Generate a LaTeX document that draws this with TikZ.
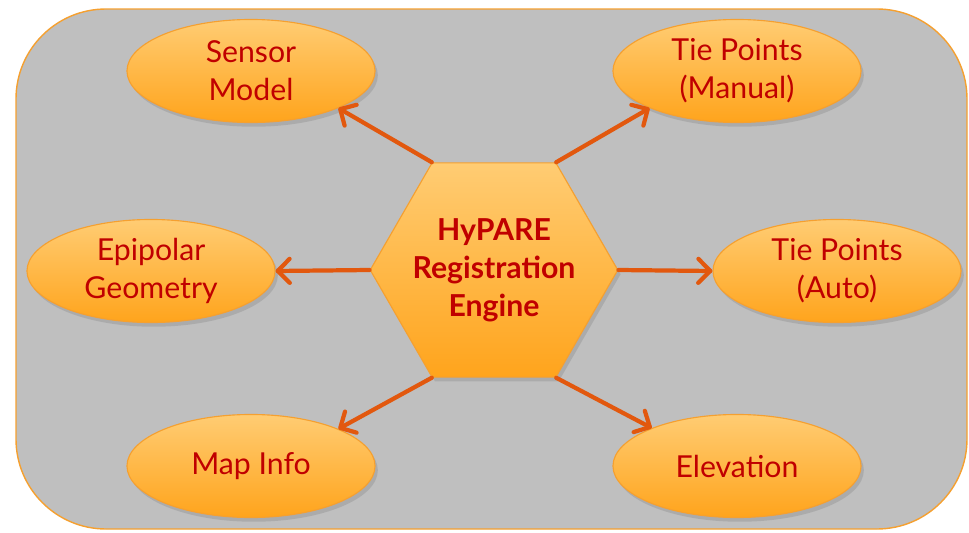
\documentclass[tikz,border=0pt]{standalone}
\usepackage{fontspec}
\setmainfont{Lato}
\usetikzlibrary{shapes.geometric,arrows.meta,shadows}
\definecolor{panelgrey}{HTML}{BFBFBF}
\definecolor{rimorange}{HTML}{F5A030}
\definecolor{lightamber}{HTML}{FFCC73}
\definecolor{deepamber}{HTML}{FFA41C}
\definecolor{labelred}{HTML}{C00000}
\definecolor{arroworange}{HTML}{E2580E}
\begin{document}
\begin{tikzpicture}[x=0.025cm,y=-0.025cm,
    blob/.style={ellipse,draw=rimorange,line width=0.8pt,top color=lightamber,bottom color=deepamber,
        minimum width=6.2cm,minimum height=2.575cm,inner sep=0pt,align=center,text=labelred,
        font=\fontsize{21.5}{27}\selectfont,
        drop shadow={shadow xshift=2pt,shadow yshift=-3pt,opacity=0.3}},
    hub/.style={regular polygon,regular polygon sides=6,draw=rimorange,line width=0.8pt,
        top color=lightamber,bottom color=deepamber,minimum size=5cm,inner sep=-4pt,
        align=center,text=labelred,font=\fontsize{21.5}{27}\selectfont\bfseries,
        drop shadow={shadow xshift=2pt,shadow yshift=-3pt,opacity=0.3}},
    link/.style={draw=arroworange,line width=3pt,line cap=round,
        -{Straight Barb[length=3mm,width=6mm,round]}}]
    \useasboundingbox (0,0) rectangle (969,533);
    \draw[draw=rimorange,line width=1pt,fill=panelgrey,rounded corners=2.25cm] (16,9) rectangle (967,529);
    \node[hub] (engine) at (494,270) {HyPARE\\Registration\\Engine};
    \node[blob] (sensor) at (251,71) {Sensor\\Model};
    \node[blob] (manual) at (737,71) {Tie Points\\(Manual)};
    \node[blob] (epipolar) at (151,271) {Epipolar\\Geometry};
    \node[blob] (auto) at (837,271) {Tie Points\\(Auto)};
    \node[blob] (mapinfo) at (251,466) {Map Info};
    \node[blob] (elevation) at (737,466) {Elevation};
    \draw[link] (engine.120) -- (sensor.-23);
    \draw[link] (engine.60) -- (manual.203);
    \draw[link] (engine.180) -- (epipolar.east);
    \draw[link] (engine.0) -- (auto.west);
    \draw[link] (engine.240) -- (mapinfo.23);
    \draw[link] (engine.300) -- (elevation.156);
\end{tikzpicture}
\end{document}
